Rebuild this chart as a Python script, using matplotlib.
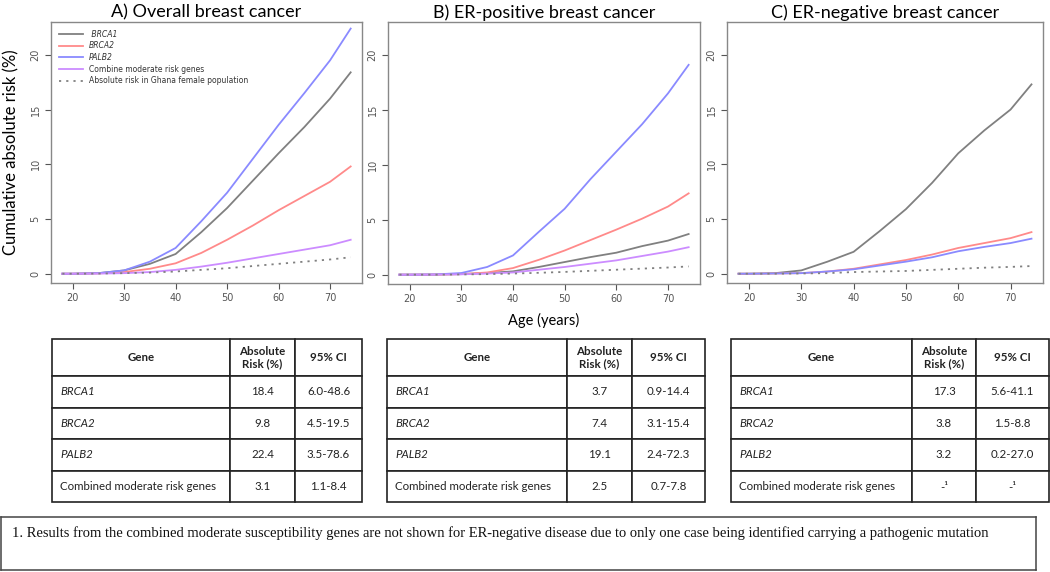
import matplotlib.pyplot as plt

# ages (years) at which risks are plotted
ages = [18, 20, 25, 30, 35, 40, 45, 50, 55, 60, 65, 70, 74]

# A) overall breast cancer
all_brca1 = [0, 0, 0.05, 0.3, 0.9, 1.8, 3.8, 6.0, 8.5, 11.0, 13.4, 16.0, 18.4]
all_brca2 = [0, 0, 0.03, 0.15, 0.45, 0.95, 1.9, 3.1, 4.4, 5.8, 7.1, 8.4, 9.8]
all_palb2 = [0, 0, 0.05, 0.3, 1.1, 2.35, 4.8, 7.4, 10.5, 13.6, 16.5, 19.5, 22.4]
all_moder = [0, 0, 0.01, 0.05, 0.15, 0.35, 0.65, 1.0, 1.4, 1.8, 2.2, 2.6, 3.1]
all_pop = [0, 0, 0.01, 0.05, 0.1, 0.2, 0.35, 0.5, 0.7, 0.9, 1.1, 1.3, 1.5]

# B) ER-positive
pos_brca1 = [0, 0, 0.01, 0.05, 0.15, 0.3, 0.7, 1.15, 1.6, 2.0, 2.6, 3.1, 3.7]
pos_brca2 = [0, 0, 0.01, 0.05, 0.2, 0.6, 1.35, 2.2, 3.15, 4.1, 5.1, 6.2, 7.4]
pos_palb2 = [0, 0, 0.02, 0.15, 0.7, 1.75, 3.9, 6.0, 8.7, 11.2, 13.7, 16.5, 19.1]
pos_moder = [0, 0, 0.01, 0.03, 0.1, 0.2, 0.45, 0.7, 1.0, 1.3, 1.7, 2.1, 2.5]
pos_pop = [0, 0, 0, 0.02, 0.05, 0.1, 0.17, 0.25, 0.35, 0.45, 0.55, 0.65, 0.75]

# C) ER-negative
neg_brca1 = [0, 0, 0.05, 0.3, 1.1, 2.0, 3.9, 5.9, 8.3, 11.0, 13.1, 15.0, 17.3]
neg_brca2 = [0, 0, 0.02, 0.05, 0.2, 0.45, 0.85, 1.25, 1.75, 2.35, 2.8, 3.25, 3.8]
neg_palb2 = [0, 0, 0.02, 0.05, 0.2, 0.4, 0.75, 1.1, 1.5, 2.05, 2.45, 2.8, 3.2]
neg_pop = [0, 0, 0, 0.02, 0.05, 0.15, 0.2, 0.25, 0.35, 0.45, 0.55, 0.62, 0.7]

genes = ['BRCA1', 'BRCA2', 'PALB2', 'Combined moderate risk genes']
header = ['Gene', 'Absolute\nRisk (%)', '95% CI']
all_risk = ['18.4', '9.8', '22.4', '3.1']
all_ci = ['6.0-48.6', '4.5-19.5', '3.5-78.6', '1.1-8.4']
pos_risk = ['3.7', '7.4', '19.1', '2.5']
pos_ci = ['0.9-14.4', '3.1-15.4', '2.4-72.3', '0.7-7.8']
neg_risk = ['17.3', '3.8', '3.2', '-\u00b9']
neg_ci = ['5.6-41.1', '1.5-8.8', '0.2-27.0', '-\u00b9']

footnote = ('1. Results from the combined moderate susceptibility genes are not shown for '
            'ER-negative disease due to only one case being identified carrying a pathogenic mutation')

c_brca1 = '#808080'
c_brca2 = '#ff8a8a'
c_palb2 = '#8a8aff'
c_moder = '#cc8cff'
c_pop = '#808080'

W, H = 1050, 572
fig = plt.figure(figsize=(W / 100, H / 100), dpi=100)


def px_rect(l, t, r, b):
    return [l / W, 1 - b / H, (r - l) / W, (b - t) / H]


def panel(rect, title, series):
    ax = fig.add_axes(rect)
    for y, col, lab, ls in series:
        ax.plot(ages, y, color=col, lw=1.3, ls=ls, label=lab)
    ax.set_xlim(15.8, 76.2)
    ax.set_ylim(-0.85, 23.0)
    ax.set_xticks([20, 30, 40, 50, 60, 70])
    ax.set_yticks([0, 5, 10, 15, 20])
    ax.tick_params(labelsize=7, colors='#555555', length=4, width=0.8)
    for lab in ax.get_yticklabels():
        lab.set_rotation(90)
        lab.set_va('center')
    for s in ax.spines.values():
        s.set_color('#888888')
        s.set_linewidth(1.0)
    ax.set_title(title, fontsize=13, family='Lato', pad=3)
    return ax


dots = (0, (1.2, 2.8))

axA = panel(px_rect(51, 22, 362, 283), 'A) Overall breast cancer', [
    (all_brca1, c_brca1, ' BRCA1', '-'),
    (all_brca2, c_brca2, 'BRCA2', '-'),
    (all_palb2, c_palb2, 'PALB2', '-'),
    (all_moder, c_moder, 'Combine moderate risk genes', '-'),
    (all_pop, c_pop, 'Absolute risk in Ghana female population', dots),
])
leg = axA.legend(loc='upper left', frameon=False, fontsize=5.5, handlelength=3.2,
                 labelspacing=0.35, borderaxespad=0.6, handletextpad=0.8)
for i, t in enumerate(leg.get_texts()):
    t.set_color('#333333')
    if i < 3:
        t.set_style('italic')
axA.set_ylabel('Cumulative absolute risk (%)', fontsize=12, family='Lato', labelpad=8)

axB = panel(px_rect(388, 22, 700, 284), 'B) ER-positive breast cancer', [
    (pos_brca1, c_brca1, 'BRCA1', '-'),
    (pos_brca2, c_brca2, 'BRCA2', '-'),
    (pos_palb2, c_palb2, 'PALB2', '-'),
    (pos_moder, c_moder, 'Combined', '-'),
    (pos_pop, c_pop, 'Population', dots),
])
axB.set_xlabel('Age (years)', fontsize=10.5, family='Lato', labelpad=6)

axC = panel(px_rect(727, 22, 1043, 283), 'C) ER-negative breast cancer', [
    (neg_brca1, c_brca1, 'BRCA1', '-'),
    (neg_brca2, c_brca2, 'BRCA2', '-'),
    (neg_palb2, c_palb2, 'PALB2', '-'),
    (neg_pop, c_pop, 'Population', dots),
])


def draw_table(rect, risk, ci, widths):
    ax = fig.add_axes(rect)
    ax.axis('off')
    rows = [[g, r, c] for g, r, c in zip(genes, risk, ci)]
    tb = ax.table(cellText=rows, colLabels=header, colWidths=widths,
                  cellLoc='center', bbox=[0, 0, 1, 1])
    tb.auto_set_font_size(False)
    for (r, c), cell in tb.get_celld().items():
        cell.set_linewidth(1.2)
        cell.set_edgecolor('#222222')
        cell.set_height(37 if r == 0 else 31.5)
        txt = cell.get_text()
        txt.set_fontsize(8.3)
        txt.set_family('Lato')
        txt.set_color('#222222')
        if r == 0:
            txt.set_weight('bold')
            txt.set_linespacing(1.15)
        elif c == 0:
            cell._loc = 'left'
            cell.PAD = 0.045
            txt.set_ha('left')
            if r <= 3:
                txt.set_style('italic')


draw_table(px_rect(52, 339, 362, 502), all_risk, all_ci, [178, 65, 67])
draw_table(px_rect(387, 339, 705, 502), pos_risk, pos_ci, [180, 65, 73])
draw_table(px_rect(731, 339, 1049, 502), neg_risk, neg_ci, [181, 64, 73])

# footnote box
axF = fig.add_axes(px_rect(1, 517, 1036, 570))
axF.set_xticks([])
axF.set_yticks([])
for s in axF.spines.values():
    s.set_color('#444444')
    s.set_linewidth(1.1)
axF.text(11 / 1035, 0.7, footnote, transform=axF.transAxes, fontsize=10.5,
         family='Liberation Serif', va='center', ha='left', color='#111111')

fig.savefig('out.png', dpi=100)
